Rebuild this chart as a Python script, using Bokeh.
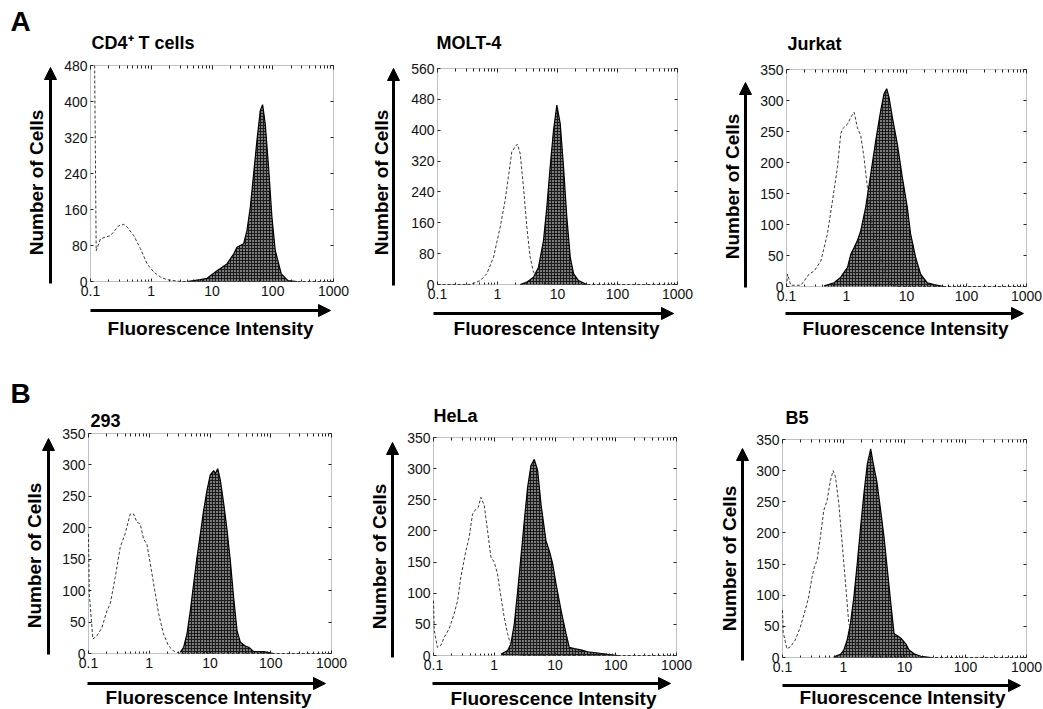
from bokeh.plotting import figure
from bokeh.layouts import column, row
from bokeh.models import (LinearAxis, LogAxis, FixedTicker, Label, Arrow, NormalHead,
                          Range1d, BoxAnnotation)
from bokeh.embed import file_html
from bokeh.resources import INLINE

# ---------------- data ----------------
X_TICKS = [0.1, 1, 10, 100, 1000]
X_TICK_LABELS = ["0.1", "1", "10", "100", "1000"]

cd4_title = "CD4\u207a T cells"
cd4_yticks = [0, 80, 160, 240, 320, 400, 480]
cd4_ctrl_x = [0.117, 0.124, 0.146, 0.213, 0.292, 0.353, 0.401, 0.515, 0.664, 0.855, 1.10, 1.42, 1.82, 3.02, 1000]
cd4_ctrl_y = [480, 68, 95, 102, 124, 127, 121, 102, 73, 39, 21, 10, 4, 0, 0]
cd4_stain_x = [3.9, 6.4, 8.3, 12.1, 17.6, 22.7, 25.8, 29.2, 33.2, 37.6, 42.7, 48.4, 54.9, 62.3, 68.1, 75.3, 85.4, 96.9, 110, 138, 178, 250]
cd4_stain_y = [0, 4, 7, 24, 39, 61, 76, 80, 84, 113, 165, 239, 313, 380, 393, 350, 254, 143, 69, 17, 2, 0]

molt_title = "MOLT-4"
molt_yticks = [0, 80, 160, 240, 320, 400, 480, 560]
molt_ctrl_x = [0.1, 0.350, 0.398, 0.514, 0.664, 0.858, 1.11, 1.34, 1.52, 1.73, 1.97, 2.15, 2.39, 2.71, 3.08, 3.50, 3.98, 4.82, 6.64, 8.58, 1000]
molt_ctrl_y = [0, 0, 3, 10, 28, 71, 149, 218, 279, 344, 357, 364, 339, 253, 149, 71, 32, 15, 3, 0, 0]
molt_stain_x = [2.39, 3.08, 3.98, 4.82, 5.84, 6.64, 7.55, 8.58, 9.75, 11.1, 12.6, 14.3, 16.3, 18.5, 22.4, 30.8]
molt_stain_y = [0, 6, 19, 45, 114, 201, 305, 400, 465, 417, 305, 175, 71, 28, 10, 0]

jurkat_title = "Jurkat"
jurkat_yticks = [0, 50, 100, 150, 200, 250, 300, 350]
jurkat_ctrl_x = [0.1, 0.104, 0.118, 0.173, 0.197, 0.238, 0.289, 0.373, 0.481, 0.583, 0.706, 0.802, 0.855, 1.04, 1.18, 1.34, 1.52, 1.73, 1.96, 2.23, 2.70, 3.27, 3.72, 4.22, 4.80, 5.45, 7.03, 1000]
jurkat_ctrl_y = [0, 20, 2, 2, 9, 20, 25, 41, 85, 138, 192, 246, 254, 262, 273, 281, 256, 243, 208, 160, 95, 63, 44, 25, 12, 4, 0, 0]
jurkat_stain_x = [0.424, 0.621, 0.802, 1.04, 1.18, 1.34, 1.52, 1.73, 2.09, 2.53, 3.07, 3.72, 4.22, 4.68, 5.12, 5.81, 7.03, 8.52, 10.3, 11.7, 14.2, 17.2, 22.2, 28.7, 42.1]
jurkat_stain_y = [1, 6, 15, 31, 52, 63, 74, 90, 128, 181, 235, 284, 311, 319, 305, 273, 230, 176, 128, 85, 47, 20, 6, 3, 0]

h293_title = "293"
h293_yticks = [0, 50, 100, 150, 200, 250, 300, 350]
h293_ctrl_x = [0.1, 0.103, 0.118, 0.137, 0.166, 0.201, 0.228, 0.275, 0.333, 0.402, 0.486, 0.552, 0.626, 0.711, 0.807, 0.915, 1.04, 1.18, 1.43, 1.72, 2.08, 2.52, 3.24, 1000]
h293_ctrl_y = [190, 95, 23, 28, 41, 68, 79, 121, 169, 191, 222, 222, 209, 206, 182, 174, 143, 111, 63, 31, 12, 4, 0, 0]
h293_stain_x = [3.24, 3.68, 4.18, 4.74, 5.38, 6.11, 6.93, 7.87, 8.93, 10.1, 11.5, 12.2, 13.4, 14.8, 16.8, 19.1, 21.6, 24.5, 27.9, 31.6, 38.2, 43.4, 52.5, 76.7, 112]
h293_stain_y = [2, 10, 31, 68, 111, 153, 190, 228, 260, 284, 291, 286, 294, 276, 239, 196, 148, 89, 36, 18, 12, 10, 3, 3, 0]

hela_title = "HeLa"
hela_yticks = [0, 50, 100, 150, 200, 250, 300, 350]
hela_ctrl_x = [0.1, 0.103, 0.116, 0.132, 0.150, 0.181, 0.219, 0.249, 0.282, 0.341, 0.387, 0.439, 0.499, 0.545, 0.603, 0.684, 0.777, 0.881, 1.00, 1.13, 1.29, 1.46, 1.66, 1.88, 2.14, 2.75, 1000]
hela_ctrl_y = [88, 40, 13, 16, 29, 43, 67, 88, 126, 168, 190, 227, 235, 238, 254, 241, 200, 158, 150, 131, 94, 61, 35, 16, 5, 0, 0]
hela_stain_x = [1.29, 1.66, 1.88, 2.14, 2.43, 2.75, 3.12, 3.54, 4.02, 4.56, 5.18, 5.88, 7.11, 8.07, 9.16, 10.4, 12.6, 15.2, 17.2, 20.8, 26.8, 34.5, 50.5, 73.8, 108]
hela_stain_y = [2, 8, 19, 51, 104, 158, 216, 270, 305, 315, 297, 243, 184, 168, 147, 115, 72, 35, 13, 11, 9, 6, 4, 2, 0]

b5_title = "B5"
b5_yticks = [0, 50, 100, 150, 200, 250, 300, 350]
b5_ctrl_x = [0.1, 0.103, 0.118, 0.134, 0.162, 0.196, 0.236, 0.268, 0.305, 0.333, 0.368, 0.418, 0.474, 0.538, 0.610, 0.676, 0.738, 0.838, 0.951, 1.08, 1.22, 1.39, 1.68, 2.03, 2.46, 2.97, 1000]
b5_ctrl_y = [76, 40, 14, 17, 28, 49, 76, 97, 129, 145, 156, 193, 236, 252, 284, 300, 290, 247, 183, 119, 55, 36, 22, 12, 4, 0, 0]
b5_stain_x = [0.693, 0.893, 1.01, 1.15, 1.30, 1.48, 1.68, 1.91, 2.16, 2.46, 2.79, 3.08, 3.50, 4.07, 4.62, 5.25, 5.96, 6.76, 7.67, 8.93, 10.5, 11.9, 14.4, 18.6, 27.2]
b5_stain_y = [1, 5, 12, 28, 55, 97, 151, 210, 263, 311, 335, 311, 284, 236, 193, 140, 87, 38, 35, 30, 22, 12, 6, 2, 0]

X_LABEL = "Fluorescence Intensity"
Y_LABEL = "Number of Cells"

# ---------------- styling / layout ----------------
FONT = "Liberation Sans"
X_MINOR = [m * d for d in (0.1, 1, 10, 100) for m in range(2, 10)]

# positions (page pixels): plot box, text centres, arrows
panels = [
    dict(title=cd4_title, yt=cd4_yticks, cx=cd4_ctrl_x, cy=cd4_ctrl_y, sx=cd4_stain_x, sy=cd4_stain_y,
         origin=(0, 0), size=(360, 355), box=(90, 65, 333, 281), letter=("A", 10, 21),
         title_pos=(91, 42), ylab=(36, 182), yarrow=(50, 283, 67), xarrow=(310, 90, 330), xlab=(210, 328)),
    dict(title=molt_title, yt=molt_yticks, cx=molt_ctrl_x, cy=molt_ctrl_y, sx=molt_stain_x, sy=molt_stain_y,
         origin=(360, 0), size=(340, 355), box=(437, 68, 677, 284), letter=None,
         title_pos=(436, 42), ylab=(381, 182), yarrow=(393, 285, 68), xarrow=(313, 433, 673), xlab=(556, 328)),
    dict(title=jurkat_title, yt=jurkat_yticks, cx=jurkat_ctrl_x, cy=jurkat_ctrl_y, sx=jurkat_stain_x, sy=jurkat_stain_y,
         origin=(700, 0), size=(343, 355), box=(786, 69, 1026, 286), letter=None,
         title_pos=(787, 43), ylab=(732, 186), yarrow=(745, 287, 82), xarrow=(313, 785, 1023), xlab=(905, 328)),
    dict(title=h293_title, yt=h293_yticks, cx=h293_ctrl_x, cy=h293_ctrl_y, sx=h293_stain_x, sy=h293_stain_y,
         origin=(0, 355), size=(360, 354), box=(88, 433, 331, 653), letter=("B", 10, 393),
         title_pos=(90, 420), ylab=(34, 555), yarrow=(48, 654, 438), xarrow=(683, 87, 325), xlab=(208, 697)),
    dict(title=hela_title, yt=hela_yticks, cx=hela_ctrl_x, cy=hela_ctrl_y, sx=hela_stain_x, sy=hela_stain_y,
         origin=(360, 355), size=(340, 354), box=(433, 437, 676, 655), letter=None,
         title_pos=(433, 415), ylab=(379, 556), yarrow=(392, 657, 442), xarrow=(683, 432, 670), xlab=(553, 698)),
    dict(title=b5_title, yt=b5_yticks, cx=b5_ctrl_x, cy=b5_ctrl_y, sx=b5_stain_x, sy=b5_stain_y,
         origin=(700, 355), size=(343, 354), box=(782, 439, 1026, 657), letter=None,
         title_pos=(785, 417), ylab=(729, 558), yarrow=(742, 660, 448), xarrow=(685, 782, 1020), xlab=(902, 697)),
]


def make_panel(d):
    ox, oy = d["origin"]
    W, H = d["size"]
    L, T, R, B = d["box"]
    yt = d["yt"]
    ymax = yt[-1]
    # the frame covers the whole canvas; the drawn plot box sits inside it
    k = (R - L) / 4.0                      # pixels per decade
    x0 = 0.1 * 10 ** (-(L - ox) / k)
    x1 = 1000 * 10 ** ((ox + W - R) / k)
    s = ymax / float(B - T)                # counts per pixel
    y0 = -(oy + H - B) * s
    y1 = ymax + (T - oy) * s

    p = figure(width=W, height=H, x_axis_type="log",
               x_range=Range1d(x0, x1), y_range=Range1d(y0, y1),
               output_backend="svg", toolbar_location=None, title_location=None,
               min_border=0)
    p.xgrid.visible = False
    p.ygrid.visible = False
    p.outline_line_color = None
    p.background_fill_color = "white"
    p.border_fill_color = "white"

    def style(ax, labels=True):
        ax.axis_line_color = None
        ax.major_tick_line_color = "#222222"
        ax.minor_tick_line_color = "#222222"
        ax.major_label_text_font = FONT
        ax.major_label_text_font_size = "14px"
        ax.major_label_text_color = "#111111" if labels else None

    xa = p.xaxis[0]
    xa.fixed_location = 0
    xa.ticker = FixedTicker(ticks=X_TICKS, minor_ticks=X_MINOR)
    xa.major_label_overrides = dict(zip(X_TICKS, X_TICK_LABELS))
    xa.major_tick_in, xa.major_tick_out = 3, 0
    xa.minor_tick_in, xa.minor_tick_out = 2, 0
    xa.major_label_standoff = 4
    style(xa)

    ya = p.yaxis[0]
    ya.fixed_location = 0.1
    ya.ticker = FixedTicker(ticks=yt)
    ya.major_tick_in, ya.major_tick_out = 3, 0
    ya.minor_tick_in, ya.minor_tick_out = 0, 0
    ya.major_label_standoff = 3
    style(ya)

    top = LogAxis(ticker=FixedTicker(ticks=X_TICKS, minor_ticks=X_MINOR), fixed_location=ymax,
                  major_tick_in=4, major_tick_out=0, minor_tick_in=3, minor_tick_out=0)
    style(top, labels=False)
    p.add_layout(top, "above")
    right = LinearAxis(ticker=FixedTicker(ticks=yt), fixed_location=1000,
                       major_tick_in=3, major_tick_out=0, minor_tick_in=0, minor_tick_out=0)
    style(right, labels=False)
    p.add_layout(right, "right")

    p.add_layout(BoxAnnotation(left=0.1, right=1000, bottom=0, top=ymax,
                               fill_alpha=0, line_color="#333333", line_width=1))

    p.varea(x=d["sx"], y1=0, y2=d["sy"], fill_color="#7c7c7c",
            hatch_pattern="cross", hatch_color="#1a1a1a", hatch_scale=3, hatch_weight=1)
    p.line(d["sx"], d["sy"], line_color="black", line_width=1.2)
    p.line(d["cx"], d["cy"], line_color="#3a3a3a", line_width=1, line_dash="3 2")

    def sx_(ax):
        return ax - ox

    def sy_(ay):
        return (oy + H) - ay

    def lab(text, ax, ay, size, align="left", angle=0.0):
        p.add_layout(Label(x=sx_(ax), y=sy_(ay), x_units="screen", y_units="screen", text=text,
                           text_font=FONT, text_font_size=size, text_font_style="bold",
                           text_align=align, text_baseline="middle", angle=angle,
                           text_color="black"))

    if d["letter"]:
        ltxt, lx, ly = d["letter"]
        lab(ltxt, lx, ly, "28px")
    tx, ty = d["title_pos"]
    lab(d["title"], tx, ty, "18px")
    yx, yy = d["ylab"]
    lab(Y_LABEL, yx, yy, "19px", align="center", angle=1.5708)
    xx, xy = d["xlab"]
    lab(X_LABEL, xx, xy, "19px", align="center")

    axx, yb, ytip = d["yarrow"]
    p.add_layout(Arrow(end=NormalHead(size=12, fill_color="black", line_color="black"),
                       x_start=sx_(axx), y_start=sy_(yb), x_end=sx_(axx), y_end=sy_(ytip),
                       start_units="screen", end_units="screen",
                       line_color="black", line_width=3))
    ayy, xb, xtip = d["xarrow"]
    p.add_layout(Arrow(end=NormalHead(size=12, fill_color="black", line_color="black"),
                       x_start=sx_(xb), y_start=sy_(ayy), x_end=sx_(xtip), y_end=sy_(ayy),
                       start_units="screen", end_units="screen",
                       line_color="black", line_width=3))
    return p


figs = [make_panel(d) for d in panels]
layout = column(row(*figs[:3], spacing=0), row(*figs[3:], spacing=0), spacing=0)

open("out.html", "w").write(file_html(layout, INLINE))
